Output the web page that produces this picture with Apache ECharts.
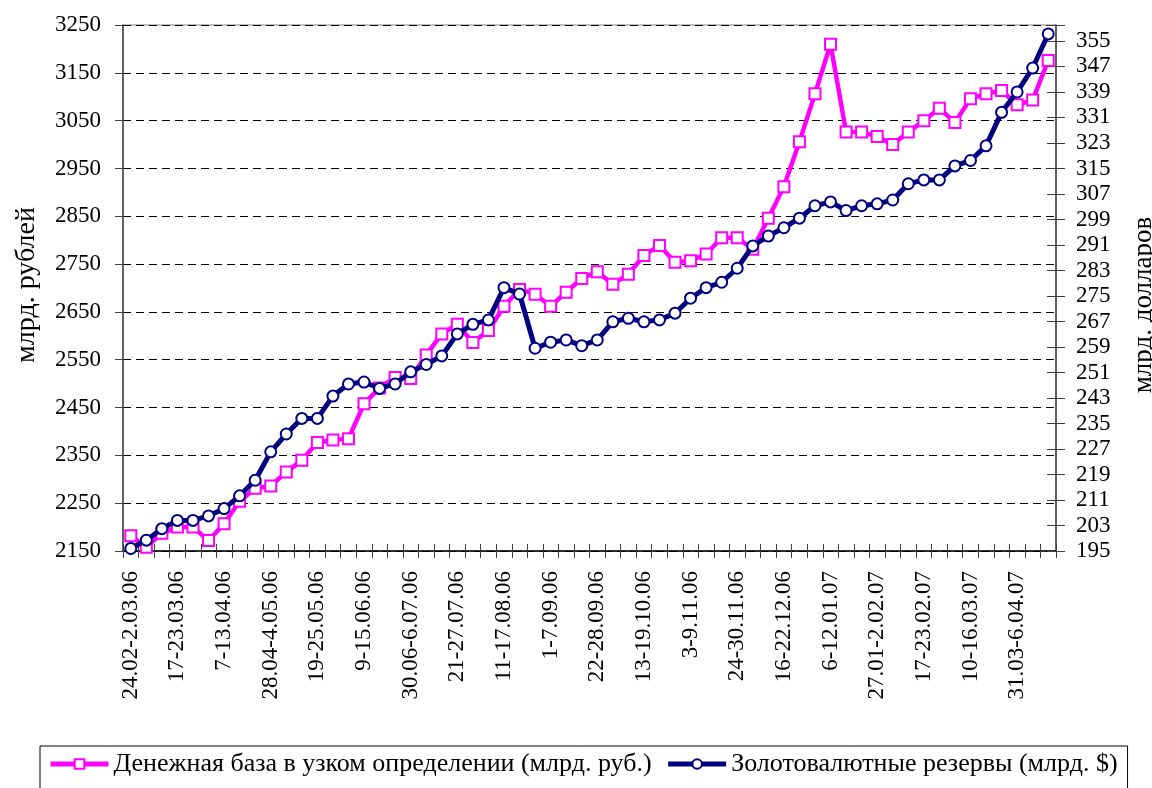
<!DOCTYPE html>
<html>
<head>
<meta charset="utf-8">
<script src="https://cdn.jsdelivr.net/npm/echarts@6/dist/echarts.min.js"></script>
<style>
  html, body { margin: 0; padding: 0; background: #fff; }
  #main { width: 1152px; height: 788px; }
</style>
</head>
<body>
<div id="main"></div>
<script>
// weekly periods, Feb 2006 - Apr 2007
const weeks = [
  '24.02-2.03.06', '3-9.03.06', '10-16.03.06', '17-23.03.06', '24-30.03.06', '31.03-6.04.06',
  '7-13.04.06', '14-20.04.06', '21-27.04.06', '28.04-4.05.06', '5-11.05.06', '12-18.05.06',
  '19-25.05.06', '26.05-1.06.06', '2-8.06.06', '9-15.06.06', '16-22.06.06', '23-29.06.06',
  '30.06-6.07.06', '7-13.07.06', '14-20.07.06', '21-27.07.06', '28.07-3.08.06', '4-10.08.06',
  '11-17.08.06', '18-24.08.06', '25-31.08.06', '1-7.09.06', '8-14.09.06', '15-21.09.06',
  '22-28.09.06', '29.09-5.10.06', '6-12.10.06', '13-19.10.06', '20-26.10.06', '27.10-2.11.06',
  '3-9.11.06', '10-16.11.06', '17-23.11.06', '24-30.11.06', '1-7.12.06', '8-15.12.06',
  '16-22.12.06', '23-29.12.06', '30.12-5.01.07', '6-12.01.07', '13-19.01.07', '20-26.01.07',
  '27.01-2.02.07', '3-9.02.07', '10-16.02.07', '17-23.02.07', '24.02-2.03.07', '3-9.03.07',
  '10-16.03.07', '17-23.03.07', '24-30.03.07', '31.03-6.04.07', '7-13.04.07', '14-20.04.07'
]

// денежная база, млрд. руб. (left axis)
const moneyBase = [
  2182, 2158, 2187, 2200, 2200, 2172, 2207, 2254, 2281, 2286,
  2315, 2340, 2377, 2382, 2385, 2458, 2491, 2513, 2511, 2560,
  2604, 2624, 2586, 2611, 2662, 2697, 2687, 2662, 2691, 2720,
  2734, 2708, 2729, 2768, 2789, 2754, 2757, 2771, 2805, 2805,
  2781, 2846, 2912, 3006, 3106, 3210, 3026, 3026, 3017, 3000,
  3026, 3050, 3076, 3046, 3096, 3106, 3113, 3083, 3093, 3176
]

// золотовалютные резервы, млрд. $ (right axis)
const reserves = [
  195.8, 198.4, 202.0, 204.6, 204.6, 206.0, 208.3, 212.3, 217.2, 226.1,
  231.7, 236.6, 236.6, 243.6, 247.4, 248.0, 246.0, 247.4, 251.2, 253.5,
  256.2, 263.1, 266.1, 267.5, 277.6, 275.6, 258.6, 260.5, 261.2, 259.4,
  261.2, 266.9, 268.0, 266.9, 267.5, 269.6, 274.3, 277.6, 279.3, 283.7,
  290.7, 293.8, 296.4, 299.4, 303.3, 304.5, 301.8, 303.3, 303.9, 305.1,
  310.2, 311.4, 311.4, 315.8, 317.5, 322.1, 332.6, 339.0, 346.5, 357.2
]

const seriesNames = ['Денежная база в узком определении (млрд. руб.)', 'Золотовалютные резервы (млрд. $)']

const FONT = "'Liberation Serif', 'Times New Roman', serif"
const axisColor = '#404040'

const myChart = echarts.init(document.getElementById('main'))

myChart.setOption({
  animation: false,
  backgroundColor: '#fff',
  grid: {
    left: 123,
    right: 96,
    top: 25,
    bottom: 237,
    show: true,
    borderColor: '#808080',
    borderWidth: 1
  },
  legend: {
    left: 40,
    top: 746,
    padding: [5, 10, 30, 8],
    itemGap: 14,
    itemWidth: 58,
    itemHeight: 12,
    borderColor: '#000',
    borderWidth: 1,
    lineStyle: { width: 5 },
    textStyle: { fontFamily: FONT, fontSize: 26, color: '#000' },
    data: seriesNames
  },
  graphic: [
    {
      type: 'text',
      x: 27,
      y: 285,
      rotation: Math.PI / 2,
      style: { text: 'млрд. рублей', font: '28px ' + FONT, fill: '#000', textAlign: 'center', textVerticalAlign: 'middle' }
    },
    {
      type: 'text',
      x: 1144,
      y: 305,
      rotation: Math.PI / 2,
      style: { text: 'млрд. долларов', font: '27px ' + FONT, fill: '#000', textAlign: 'center', textVerticalAlign: 'middle' }
    }
  ],
  xAxis: [
    {
      type: 'category',
      data: weeks,
      boundaryGap: true,
      axisLine: { lineStyle: { color: '#000', width: 1.5 } },
      axisTick: { show: true, interval: 0, length: 7, lineStyle: { color: axisColor } },
      axisLabel: {
        interval: 2,
        rotate: 90,
        margin: 20,
        fontFamily: FONT,
        fontSize: 23,
        color: '#000'
      },
      splitLine: { show: false }
    },
    {
      // inner half of the crossing ticks
      type: 'category',
      data: weeks,
      position: 'bottom',
      boundaryGap: true,
      axisLine: { show: false },
      axisTick: { show: true, inside: true, interval: 0, length: 7, lineStyle: { color: axisColor } },
      axisLabel: { show: false },
      splitLine: { show: false }
    }
  ],
  yAxis: [
    {
      type: 'value',
      min: 2150,
      max: 3250,
      interval: 100,
      position: 'left',
      axisLine: { show: true, lineStyle: { color: axisColor, width: 1.5 } },
      axisTick: { show: true, length: 8, lineStyle: { color: axisColor } },
      axisLabel: {
        margin: 22,
        fontFamily: FONT,
        fontSize: 23,
        color: '#000',
        formatter: function(v) {
          return String(v)
        }
      },
      splitLine: { show: true, lineStyle: { color: '#000', type: [8, 5], width: 1 } }
    },
    {
      type: 'value',
      min: 195,
      max: 360,
      interval: 8,
      position: 'right',
      axisLine: { show: true, lineStyle: { color: axisColor, width: 1.5 } },
      axisTick: { show: true, length: 9, lineStyle: { color: axisColor } },
      axisLabel: {
        margin: 20,
        fontFamily: FONT,
        fontSize: 23,
        color: '#000',
        formatter: function(v) {
          return v > 355 ? '' : String(v)
        }
      },
      splitLine: { show: false }
    },
    {
      // inner half of the crossing ticks on the right axis
      type: 'value',
      min: 195,
      max: 360,
      interval: 8,
      position: 'right',
      axisLine: { show: false },
      axisTick: { show: true, inside: true, length: 9, lineStyle: { color: axisColor } },
      axisLabel: { show: false },
      splitLine: { show: false }
    }
  ],
  series: [
    {
      name: seriesNames[0],
      type: 'line',
      yAxisIndex: 0,
      data: moneyBase,
      symbol: 'rect',
      symbolSize: 11,
      showAllSymbol: true,
      z: 3,
      lineStyle: { color: '#FF00FF', width: 4.5 },
      itemStyle: { color: '#fff', borderColor: '#FF00FF', borderWidth: 2 }
    },
    {
      name: seriesNames[1],
      type: 'line',
      yAxisIndex: 1,
      data: reserves,
      symbol: 'circle',
      symbolSize: 11,
      showAllSymbol: true,
      z: 4,
      lineStyle: { color: '#000080', width: 5 },
      itemStyle: { color: '#fff', borderColor: '#000080', borderWidth: 2 }
    }
  ]
})
</script>
</body>
</html>
